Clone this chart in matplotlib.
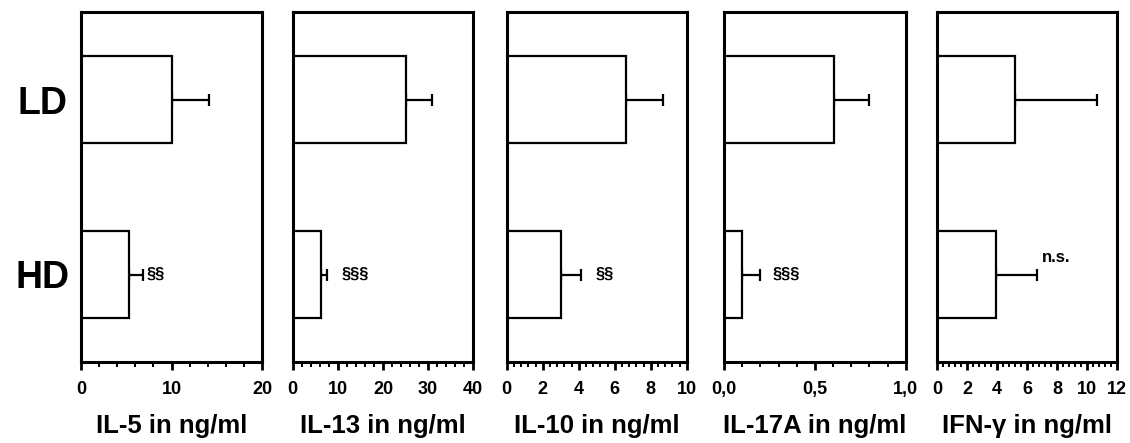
import matplotlib
matplotlib.use('Agg')
import matplotlib.pyplot as plt
from matplotlib.ticker import MultipleLocator, FuncFormatter

plt.rcParams['font.family'] = ['Liberation Sans', 'DejaVu Sans']
plt.rcParams['font.weight'] = 'bold'

groups = ['HD', 'LD']
cytokines = ['IL-5', 'IL-13', 'IL-10', 'IL-17A', 'IFN-γ']
ld_mean = [10.1, 25.2, 6.6, 0.605, 5.2]
ld_err = [4.0, 5.6, 2.1, 0.195, 5.5]
hd_mean = [5.3, 6.3, 3.0, 0.10, 3.9]
hd_err = [1.5, 1.4, 1.1, 0.10, 2.8]
x_max = [20, 40, 10, 1.0, 12]
x_step = [10, 10, 2, 0.5, 2]
sig_labels = ['§§', '§§§', '§§', '§§§', 'n.s.']

# panel placement in pixels (left, width) and label offsets
W, H = 1130, 443
lefts = [81, 292.7, 506.7, 724, 937.3]
widths = [181, 180.6, 180, 181.7, 179.4]
sig_dx = [3, 10, 11, 9, 3]
sig_dy = [0, 0, 0, 0, 12]

fig = plt.figure(figsize=(W / 100, H / 100), dpi=100)

for i, name in enumerate(cytokines):
    ax = fig.add_axes([lefts[i] / W, 1 - 362 / H, widths[i] / W, 350 / H])
    means = [hd_mean[i], ld_mean[i]]
    errs = [hd_err[i], ld_err[i]]
    ax.barh([0, 1], means, height=0.5, color='white', edgecolor='black',
            linewidth=1.6, zorder=2)
    ax.errorbar(means, [0, 1], xerr=[[0, 0], errs], fmt='none', ecolor='black',
                elinewidth=1.6, capsize=4.5, capthick=1.6, zorder=1)

    ax.annotate(sig_labels[i], xy=(means[0] + errs[0], 0),
                xytext=(sig_dx[i], sig_dy[i]), textcoords='offset points',
                ha='left', va='center', fontsize=12, fontweight='bold')

    ax.set_xlim(0, x_max[i])
    ax.set_ylim(-0.5, 1.5)
    ax.xaxis.set_major_locator(MultipleLocator(x_step[i]))
    ax.xaxis.set_minor_locator(MultipleLocator(x_step[i] / 5))
    if name == 'IL-17A':
        ax.xaxis.set_major_formatter(FuncFormatter(lambda v, p: f'{v:.1f}'.replace('.', ',')))
    ax.tick_params(axis='x', which='major', length=6, width=2, labelsize=13, pad=8)
    ax.tick_params(axis='x', which='minor', length=3.5, width=1.4)
    for s in ax.spines.values():
        s.set_linewidth(2.2)

    if i == 0:
        ax.set_yticks([0, 1])
        ax.set_yticklabels(groups, fontsize=27, fontweight='bold', ha='center')
        ax.tick_params(axis='y', length=0, pad=28)
    else:
        ax.set_yticks([])

    ax.set_xlabel(f'{name} in ng/ml', fontsize=18.5, fontweight='bold', labelpad=11)

fig.savefig('out.png', dpi=100)
